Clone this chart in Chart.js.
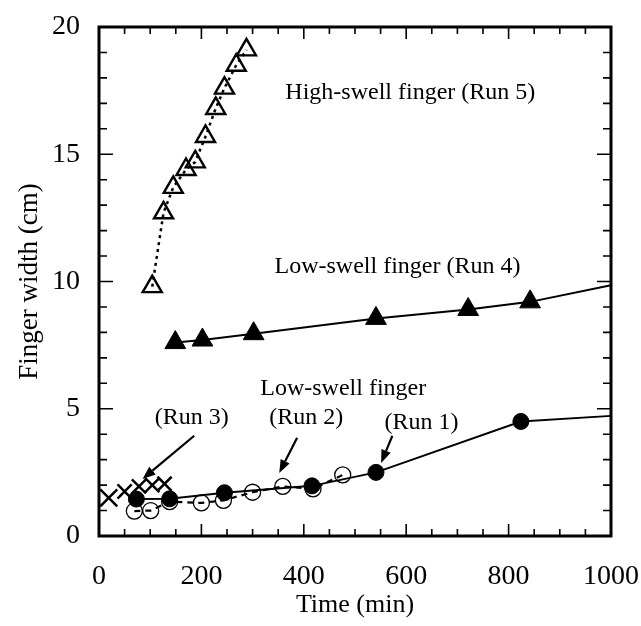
<!DOCTYPE html>
<html>
<head>
<meta charset="utf-8">
<script src="https://cdn.jsdelivr.net/npm/chart.js@4.4.1/dist/chart.umd.min.js"></script>
<style>
  html, body { margin: 0; padding: 0; background: #fff; }
  #wrap { width: 641px; height: 626px; }
</style>
</head>
<body>
<div id="wrap"><canvas id="fingerChart" width="641" height="626"></canvas></div>
<script>
// Run 1: low-swell finger, filled circles, solid line (last point = line end, no marker)
const run1Time  = [73, 138, 245, 416, 541, 824, 1000];
const run1Width = [1.45, 1.46, 1.7, 1.97, 2.5, 4.5, 4.72];

// Run 2: open circles, dashed line
const run2Time  = [69, 101, 138, 200, 243, 300, 359, 418, 476];
const run2Width = [0.98, 1.0, 1.35, 1.3, 1.4, 1.72, 1.95, 1.85, 2.4];

// Run 3: crosses
const run3Time  = [19, 50, 78, 104, 128];
const run3Width = [1.5, 1.75, 1.95, 2.0, 2.05];

// Run 4: low-swell finger, filled triangles, solid line (last point = line end)
const run4Time  = [149, 202, 302, 541, 721, 842, 1000];
const run4Width = [7.6, 7.7, 7.95, 8.55, 8.9, 9.2, 9.85];

// Run 5: high-swell finger, open triangles, dotted line
const run5Time  = [104, 126, 145, 170, 188, 208, 228, 245, 268, 288];
const run5Width = [9.8, 12.7, 13.7, 14.4, 14.7, 15.7, 16.8, 17.6, 18.5, 19.1];

const xTicks = [0, 200, 400, 600, 800, 1000];
const yTicks = [0, 5, 10, 15, 20];

// text labels and arrows, in data units
const noteText = ['High-swell finger (Run 5)', 'Low-swell finger (Run 4)', 'Low-swell finger', '(Run 3)', '(Run 2)', '(Run 1)'];
const noteX    = [608, 583, 477, 181, 405, 630];
const noteY    = [17.4, 10.6, 5.8, 4.65, 4.65, 4.45];

const arrowFromX = [186, 387, 573];
const arrowFromY = [3.94, 3.86, 3.94];
const arrowToX   = [85, 352, 551];
const arrowToY   = [2.24, 2.48, 2.87];

const FONT = "'Liberation Serif', 'Times New Roman', serif";

function pts(xs, ys) {
    return xs.map((v, i) => ({ x: v, y: ys[i] }));
}

// last point of runs 1 and 4 is only where the line meets the frame
function lineEndRadius(n, r) {
    return Array.from({ length: n }, (_, i) => (i === n - 1 ? 0 : r));
}

const frameAndNotes = {
    id: 'frameAndNotes',
    afterDraw(chart) {
        const { ctx, chartArea: a, scales: { x, y } } = chart;
        ctx.save();
        ctx.strokeStyle = '#000';
        ctx.fillStyle = '#000';

        // inward ticks on all four sides
        ctx.lineWidth = 1.6;
        ctx.beginPath();
        for (let v = 0; v <= 1000; v += 50) {
            const px = x.getPixelForValue(v);
            const len = v % 200 === 0 ? 12 : 7;
            ctx.moveTo(px, a.bottom); ctx.lineTo(px, a.bottom - len);
            ctx.moveTo(px, a.top); ctx.lineTo(px, a.top + len);
        }
        for (let v = 0; v <= 20; v += 1) {
            const py = y.getPixelForValue(v);
            const len = v % 5 === 0 ? 14 : 8;
            ctx.moveTo(a.left, py); ctx.lineTo(a.left + len, py);
            ctx.moveTo(a.right, py); ctx.lineTo(a.right - len, py);
        }
        ctx.stroke();

        // frame
        ctx.lineWidth = 3;
        ctx.strokeRect(a.left, a.top, a.right - a.left, a.bottom - a.top);

        // labels
        ctx.font = '24px ' + FONT;
        ctx.textAlign = 'center';
        ctx.textBaseline = 'middle';
        noteText.forEach((t, i) => {
            ctx.fillText(t, x.getPixelForValue(noteX[i]), y.getPixelForValue(noteY[i]));
        });

        // arrows
        ctx.lineWidth = 2.2;
        arrowFromX.forEach((fx, i) => {
            const x0 = x.getPixelForValue(fx), y0 = y.getPixelForValue(arrowFromY[i]);
            const x1 = x.getPixelForValue(arrowToX[i]), y1 = y.getPixelForValue(arrowToY[i]);
            const ang = Math.atan2(y1 - y0, x1 - x0);
            const head = 13, half = 5;
            const bx = x1 - Math.cos(ang) * head, by = y1 - Math.sin(ang) * head;
            ctx.beginPath();
            ctx.moveTo(x0, y0);
            ctx.lineTo(bx, by);
            ctx.stroke();
            ctx.beginPath();
            ctx.moveTo(x1, y1);
            ctx.lineTo(bx + Math.sin(ang) * half, by - Math.cos(ang) * half);
            ctx.lineTo(bx - Math.sin(ang) * half, by + Math.cos(ang) * half);
            ctx.closePath();
            ctx.fill();
        });
        ctx.restore();
    }
};

new Chart(document.getElementById('fingerChart').getContext('2d'), {
    type: 'scatter',
    data: {
        datasets: [
            {
                label: 'Run 1',
                data: pts(run1Time, run1Width),
                showLine: true,
                borderColor: '#000',
                borderWidth: 2,
                pointStyle: 'circle',
                pointRadius: lineEndRadius(run1Time.length, 8),
                pointBackgroundColor: '#000',
                pointBorderColor: '#000',
                pointBorderWidth: 1
            },
            {
                label: 'Run 4',
                data: pts(run4Time, run4Width),
                showLine: true,
                borderColor: '#000',
                borderWidth: 2,
                pointStyle: 'triangle',
                pointRadius: lineEndRadius(run4Time.length, 12),
                pointBackgroundColor: '#000',
                pointBorderColor: '#000',
                pointBorderWidth: 1
            },
            {
                label: 'Run 3',
                data: pts(run3Time, run3Width),
                showLine: false,
                pointStyle: 'crossRot',
                pointRadius: [12, 10, 10, 10, 10],
                pointBorderColor: '#000',
                pointBorderWidth: 2.5
            },
            {
                label: 'Run 2',
                data: pts(run2Time, run2Width),
                showLine: true,
                borderColor: '#000',
                borderWidth: 2.2,
                borderDash: [6, 5],
                pointStyle: 'circle',
                pointRadius: 8,
                pointBackgroundColor: 'rgba(0,0,0,0)',
                pointBorderColor: '#000',
                pointBorderWidth: 1.3
            },
            {
                label: 'Run 5',
                data: pts(run5Time, run5Width),
                showLine: true,
                borderColor: '#000',
                borderWidth: 2.5,
                borderDash: [3, 4],
                pointStyle: 'triangle',
                pointRadius: 11,
                pointBackgroundColor: 'rgba(0,0,0,0)',
                pointBorderColor: '#000',
                pointBorderWidth: 2.4
            }
        ]
    },
    options: {
        responsive: false,
        animation: false,
        devicePixelRatio: 1,
        clip: false,
        layout: { padding: { top: 27, right: 30, left: 0, bottom: 0 } },
        plugins: {
            legend: { display: false },
            tooltip: { enabled: false }
        },
        scales: {
            x: {
                type: 'linear',
                min: 0,
                max: 1000,
                afterBuildTicks: s => { s.ticks = xTicks.map(v => ({ value: v })); },
                afterFit: s => { s.height = 90; s.paddingLeft = 0; s.paddingRight = 0; },
                grid: { display: false, drawTicks: false },
                border: { display: false },
                ticks: {
                    color: '#000',
                    padding: 24,
                    maxRotation: 0,
                    font: { family: FONT, size: 28 },
                    callback: v => String(v)
                },
                title: {
                    display: true,
                    text: 'Time (min)',
                    color: '#000',
                    font: { family: FONT, size: 26 },
                    padding: { top: 0, bottom: 5 }
                }
            },
            y: {
                type: 'linear',
                min: 0,
                max: 20,
                afterBuildTicks: s => { s.ticks = yTicks.map(v => ({ value: v })); },
                afterFit: s => { s.width = 99; s.paddingTop = 0; s.paddingBottom = 0; },
                grid: { display: false, drawTicks: false },
                border: { display: false },
                ticks: {
                    color: '#000',
                    padding: 19,
                    font: { family: FONT, size: 28 },
                    callback: v => String(v)
                },
                title: {
                    display: true,
                    text: 'Finger width (cm)',
                    color: '#000',
                    font: { family: FONT, size: 27 },
                    padding: { top: 14, bottom: 0 }
                }
            }
        }
    },
    plugins: [frameAndNotes]
});
</script>
</body>
</html>
